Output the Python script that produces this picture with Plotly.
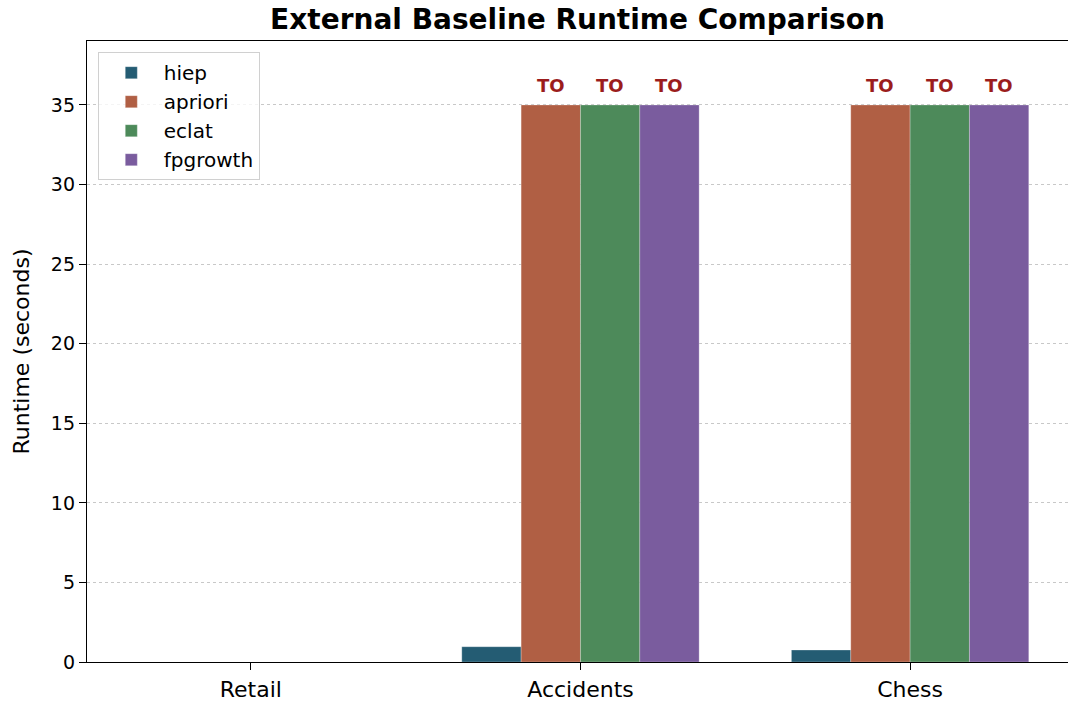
import plotly.graph_objects as go

categories = ["Retail", "Accidents", "Chess"]
series_names = ["hiep", "apriori", "eclat", "fpgrowth"]
hiep = [None, 0.96, 0.75]
apriori = [None, 35, 35]
eclat = [None, 35, 35]
fpgrowth = [None, 35, 35]
timeout_flags = {
    "apriori": [False, True, True],
    "eclat": [False, True, True],
    "fpgrowth": [False, True, True],
}
colors = ["#245c73", "#b05f44", "#4d8a5a", "#7a5c9e"]
y_ticks = [0, 5, 10, 15, 20, 25, 30, 35]

values = [hiep, apriori, eclat, fpgrowth]
BAR_W = 0.18
FONT = "DejaVu Sans"

fig = go.Figure()
for name, vals, col in zip(series_names, values, colors):
    fig.add_trace(go.Bar(
        name=name, x=categories, y=vals,
        marker=dict(color=col, line=dict(color="rgba(255,255,255,0.5)", width=0.5)),
    ))

n = len(series_names)
for si, name in enumerate(series_names):
    flags = timeout_flags.get(name)
    if not flags:
        continue
    for ci, f in enumerate(flags):
        if f:
            fig.add_annotation(
                x=ci + (si - (n - 1) / 2) * BAR_W, y=values[si][ci],
                text="<b>TO</b>", showarrow=False, yshift=19,
                font=dict(family=FONT, size=18, color="#9b1c1c"),
            )

fig.update_layout(
    width=1068, height=704,
    margin=dict(l=87, r=0, t=41, b=42),
    paper_bgcolor="white", plot_bgcolor="white",
    barmode="group", bargap=1 - n * BAR_W, bargroupgap=0,
    font=dict(family=FONT, color="black"),
    title=dict(text="<b>External Baseline Runtime Comparison</b>", x=0.5, xref="paper",
               xanchor="center", y=1 - 19 / 704, yanchor="middle",
               font=dict(size=28, family=FONT)),
    legend=dict(x=0.011, y=0.982, xanchor="left", yanchor="top",
                bgcolor="rgba(255,255,255,0.8)", bordercolor="#d0d0d0", borderwidth=1,
                font=dict(size=20, family=FONT), traceorder="normal",
                itemwidth=55),
    showlegend=True,
)
fig.update_xaxes(
    range=[-0.497, 2.479], showline=True, linecolor="black", linewidth=1.3, mirror=True,
    ticks="outside", ticklen=7, tickcolor="black", tickfont=dict(size=22, family=FONT),
    showgrid=False, zeroline=False,
)
fig.update_yaxes(
    range=[0, 39.02], tickvals=y_ticks, showline=True, linecolor="black", linewidth=1.3,
    mirror=False, ticks="outside", ticklen=7, tickcolor="black",
    tickfont=dict(size=19, family=FONT),
    showgrid=True, gridcolor="#c8c8c8", griddash="dot", gridwidth=1, zeroline=False,
    title=dict(text="Runtime (seconds)", font=dict(size=22, family=FONT), standoff=15),
)
fig.write_html(
    "out.html",
    config={"displayModeBar": False},
    post_script="document.body.style.margin='0';document.body.style.overflow='hidden';",
)
